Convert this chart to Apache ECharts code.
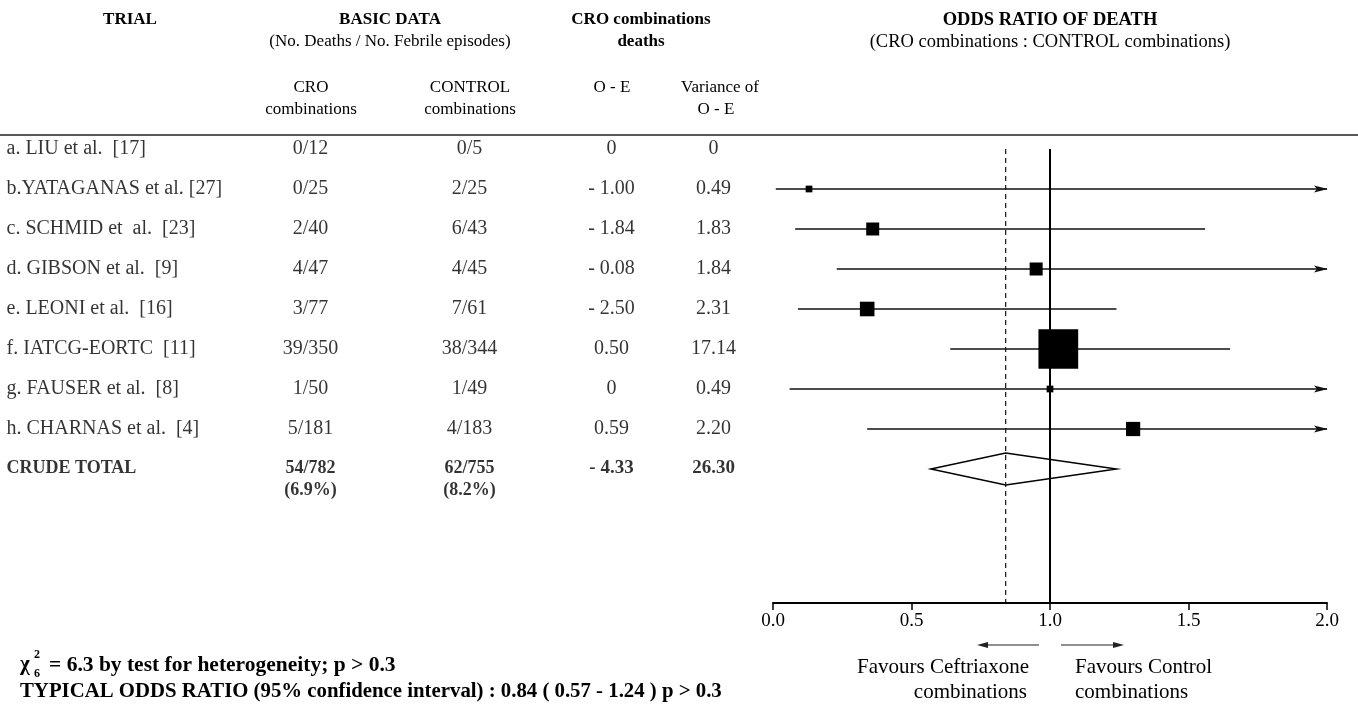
<!DOCTYPE html>
<html>
<head>
<meta charset="utf-8">
<title>Odds ratio of death</title>
<script src="https://cdn.jsdelivr.net/npm/echarts/dist/echarts.min.js"></script>
<style>
  html, body { margin: 0; padding: 0; background: #fff; }
  #chart { width: 1358px; height: 709px; }
</style>
</head>
<body>
<div id="chart"></div>
<script>
// --- data ---
const trials = [
  'a. LIU et al.  [17]',
  'b.YATAGANAS et al. [27]',
  'c. SCHMID et  al.  [23]',
  'd. GIBSON et al.  [9]',
  'e. LEONI et al.  [16]',
  'f. IATCG-EORTC  [11]',
  'g. FAUSER et al.  [8]',
  'h. CHARNAS et al.  [4]'
]
const croDeaths = [0, 0, 2, 4, 3, 39, 1, 5]
const croEpisodes = [12, 25, 40, 47, 77, 350, 50, 181]
const ctrlDeaths = [0, 2, 6, 4, 7, 38, 1, 4]
const ctrlEpisodes = [5, 25, 43, 45, 61, 344, 49, 183]
const oMinusE = [0, -1.00, -1.84, -0.08, -2.50, 0.50, 0, 0.59]
const varianceOE = [0, 0.49, 1.83, 1.84, 2.31, 17.14, 0.49, 2.20]
// odds ratio and 95% CI per trial (null = not estimable), upper > 2 runs off the axis
const oddsRatio = [null, 0.13, 0.36, 0.95, 0.34, 1.03, 1.00, 1.30]
const ciLow = [null, 0.01, 0.08, 0.23, 0.09, 0.64, 0.06, 0.34]
const ciHigh = [null, 2.14, 1.56, 4.06, 1.24, 1.65, 16.4, 4.9]

const totalLabel = 'CRUDE TOTAL'
const totalDeaths = [54, 62]
const totalEpisodes = [782, 755]
const totalPercent = ['6.9%', '8.2%']
const totalOE = -4.33
const totalVariance = 26.30
const typicalOR = [0.84, 0.57, 1.24] // estimate, lower, upper

const xTicks = [0, 0.5, 1, 1.5, 2]

// --- layout ---
const FONT = '"Liberation Serif", "DejaVu Serif", serif'
const FS = 17
const ROW_FS = 20
const ROW_MAX = 11.35 // y units between first row and the axis line
const totalRow = trials.length
const col = { trial: 7, cro: 311, ctrl: 470, oe: 612, vari: 714 }

function fmtOE(v) {
  if (v === 0) return '0'
  return v < 0 ? '- ' + Math.abs(v).toFixed(2) : v.toFixed(2)
}
function fmtVar(v) {
  return v === 0 ? '0' : v.toFixed(2)
}

function textColumn(x, items, align, bold, size) {
  return {
    type: 'scatter',
    xAxisIndex: 1,
    yAxisIndex: 1,
    symbolSize: 1,
    itemStyle: { color: 'transparent' },
    silent: true,
    data: items.map(it => ({ name: it.t, value: [x, it.y] })),
    label: {
      show: true,
      formatter: '{b}',
      position: [0, 0],
      align: align,
      verticalAlign: 'middle',
      fontFamily: FONT,
      fontSize: size || ROW_FS,
      fontWeight: bold ? 'bold' : 'normal',
      color: '#000'
    }
  }
}

const rowsIdx = trials.map((t, i) => i)
const tableSeries = [
  textColumn(col.trial, trials.map((t, i) => ({ t, y: i })), 'left', false),
  textColumn(col.cro, rowsIdx.map(i => ({ t: croDeaths[i] + '/' + croEpisodes[i], y: i })), 'center', false),
  textColumn(col.ctrl, rowsIdx.map(i => ({ t: ctrlDeaths[i] + '/' + ctrlEpisodes[i], y: i })), 'center', false),
  textColumn(col.oe, rowsIdx.map(i => ({ t: fmtOE(oMinusE[i]), y: i })), 'center', false),
  textColumn(col.vari, rowsIdx.map(i => ({ t: fmtVar(varianceOE[i]), y: i })), 'center', false),
  textColumn(col.trial, [{ t: totalLabel, y: totalRow }], 'left', true, 18),
  textColumn(col.cro, [{ t: totalDeaths[0] + '/' + totalEpisodes[0], y: totalRow }, { t: '(' + totalPercent[0] + ')', y: totalRow + 0.55 }], 'center', true, 18),
  textColumn(col.ctrl, [{ t: totalDeaths[1] + '/' + totalEpisodes[1], y: totalRow }, { t: '(' + totalPercent[1] + ')', y: totalRow + 0.55 }], 'center', true, 18),
  textColumn(col.oe, [{ t: fmtOE(totalOE), y: totalRow }], 'center', true, 19),
  textColumn(col.vari, [{ t: totalVariance.toFixed(2), y: totalRow }], 'center', true, 19)
]

const forestData = []
rowsIdx.forEach(i => {
  if (oddsRatio[i] !== null) {
    forestData.push([oddsRatio[i], i, ciLow[i], ciHigh[i], varianceOE[i]])
  }
})

const xMax = xTicks[xTicks.length - 1]

function renderTrial(params, api) {
  const or = api.value(0)
  const y = api.value(1)
  const lo = api.value(2)
  const hi = api.value(3)
  const v = api.value(4)
  const p0 = api.coord([lo, y])
  const p1 = api.coord([Math.min(hi, xMax), y])
  const pc = api.coord([or, y])
  const s = 9.6 * Math.sqrt(v)
  const children = [{
    type: 'line',
    shape: { x1: p0[0], y1: p0[1], x2: p1[0], y2: p1[1] },
    style: { stroke: '#111', lineWidth: 1.3 }
  }]
  if (hi > xMax) {
    children.push({
      type: 'polygon',
      shape: { points: [[p1[0] + 1, p1[1]], [p1[0] - 13, p1[1] - 3.5], [p1[0] - 10, p1[1]], [p1[0] - 13, p1[1] + 3.5]] },
      style: { fill: '#111' }
    })
  }
  children.push({
    type: 'rect',
    shape: { x: pc[0] - s / 2, y: pc[1] - s / 2, width: s, height: s },
    style: { fill: '#000' }
  })
  return { type: 'group', children }
}

function renderDiamond(params, api) {
  const y = api.value(1)
  const pc = api.coord([api.value(0), y])
  const pl = api.coord([api.value(2), y])
  const pr = api.coord([api.value(3), y])
  const h = 16
  return {
    type: 'polygon',
    shape: { points: [[pl[0], pc[1]], [pc[0], pc[1] - h], [pr[0], pc[1]], [pc[0], pc[1] + h]] },
    style: { fill: '#fff', stroke: '#000', lineWidth: 1.5 }
  }
}

function txt(x, y, text, opts) {
  opts = opts || {}
  return {
    type: 'text',
    x: x,
    y: y,
    silent: true,
    style: {
      text: text,
      fontFamily: FONT,
      fontSize: opts.size || FS,
      fontWeight: opts.bold ? 'bold' : 'normal',
      fill: '#000',
      align: opts.align || 'center',
      verticalAlign: 'middle'
    }
  }
}

function arrow(x1, x2, y) {
  const dir = x2 > x1 ? 1 : -1
  return [
    { type: 'line', silent: true, shape: { x1, y1: y, x2: x2 - dir * 6, y2: y }, style: { stroke: '#222', lineWidth: 1 } },
    { type: 'polygon', silent: true, shape: { points: [[x2, y], [x2 - dir * 11, y - 3], [x2 - dir * 11, y + 3]] }, style: { fill: '#222' } }
  ]
}

const graphics = [
  txt(130, 20, 'TRIAL', { bold: true }),
  txt(390, 20, 'BASIC DATA', { bold: true }),
  txt(390, 42, '(No. Deaths / No. Febrile episodes)'),
  txt(641, 20, 'CRO combinations', { bold: true }),
  txt(641, 42, 'deaths', { bold: true }),
  txt(1050, 20, 'ODDS RATIO OF DEATH', { bold: true, size: 18.5 }),
  txt(1050, 42, '(CRO combinations : CONTROL combinations)', { size: 18.5 }),
  txt(col.cro, 88, 'CRO'),
  txt(col.cro, 110, 'combinations'),
  txt(col.ctrl, 88, 'CONTROL'),
  txt(col.ctrl, 110, 'combinations'),
  txt(col.oe, 88, 'O - E'),
  txt(720, 88, 'Variance of'),
  txt(716, 110, 'O - E'),
  { type: 'line', silent: true, shape: { x1: 0, y1: 135, x2: 1358, y2: 135 }, style: { stroke: '#222', lineWidth: 1.5 } },
  txt(20, 665, 'χ', { bold: true, align: 'left', size: 21 }),
  txt(34, 655, '2', { bold: true, align: 'left', size: 12 }),
  txt(34, 674, '6', { bold: true, align: 'left', size: 12 }),
  txt(49, 665, '= 6.3 by test for heterogeneity; p > 0.3', { bold: true, align: 'left', size: 21.5 }),
  txt(20, 692, 'TYPICAL ODDS RATIO (95% confidence interval) : ' + typicalOR[0].toFixed(2) + ' ( ' + typicalOR[1].toFixed(2) + ' - ' + typicalOR[2].toFixed(2) + ' ) p > 0.3', { bold: true, align: 'left', size: 20.8 }),
  txt(1029, 667, 'Favours Ceftriaxone', { align: 'right', size: 21 }),
  txt(1027, 692, 'combinations', { align: 'right', size: 21 }),
  txt(1075, 667, 'Favours Control', { align: 'left', size: 21 }),
  txt(1075, 692, 'combinations', { align: 'left', size: 21 })
].concat(arrow(1039, 977, 645), arrow(1061, 1124, 645))

const chart = echarts.init(document.getElementById('chart'), null, { renderer: 'canvas' })
chart.setOption({
  animation: false,
  backgroundColor: '#fff',
  grid: [
    { left: 773, right: 31, top: 149, bottom: 106 },
    { left: 0, right: 0, top: 149, bottom: 106 }
  ],
  xAxis: [
    {
      type: 'value',
      gridIndex: 0,
      min: xTicks[0],
      max: xMax,
      interval: xTicks[1] - xTicks[0],
      splitLine: { show: false },
      axisLine: { onZero: false, lineStyle: { color: '#000', width: 2 } },
      axisTick: { length: 7, lineStyle: { color: '#000', width: 1.5 } },
      axisLabel: {
        margin: 9,
        fontFamily: FONT,
        fontSize: 19,
        color: '#000',
        formatter: v => v.toFixed(1)
      }
    },
    { type: 'value', gridIndex: 1, min: 0, max: 1358, show: false }
  ],
  yAxis: [
    { type: 'value', gridIndex: 0, inverse: true, min: 0, max: ROW_MAX, show: false },
    { type: 'value', gridIndex: 1, inverse: true, min: 0, max: ROW_MAX, show: false }
  ],
  series: [
    {
      type: 'line',
      xAxisIndex: 0, yAxisIndex: 0,
      data: [[typicalOR[0], 0], [typicalOR[0], ROW_MAX]],
      showSymbol: false, silent: true,
      lineStyle: { color: '#111', width: 1.2, type: [5, 4] }
    },
    {
      type: 'line',
      xAxisIndex: 0, yAxisIndex: 0,
      data: [[1, 0], [1, ROW_MAX]],
      showSymbol: false, silent: true,
      lineStyle: { color: '#000', width: 2 }
    },
    {
      type: 'custom',
      xAxisIndex: 0, yAxisIndex: 0,
      renderItem: renderTrial,
      encode: { x: [0, 2, 3], y: 1 },
      data: forestData,
      silent: true
    },
    {
      type: 'custom',
      xAxisIndex: 0, yAxisIndex: 0,
      renderItem: renderDiamond,
      encode: { x: [0, 2, 3], y: 1 },
      data: [[typicalOR[0], totalRow, typicalOR[1], typicalOR[2]]],
      silent: true
    }
  ].concat(tableSeries),
  graphic: graphics
})
</script>
</body>
</html>
